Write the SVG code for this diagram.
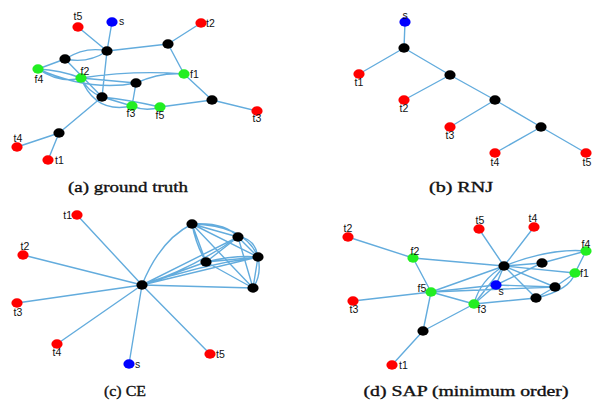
<svg xmlns="http://www.w3.org/2000/svg" width="606" height="403" viewBox="0 0 606 403">
<style>
.e{stroke:#63acdd;stroke-width:1.4;fill:none}
.k{fill:#000}.r{fill:#ff0000}.g{fill:#22ee22}.b{fill:#0000ff}
.l{font-family:"Liberation Sans",Arial,sans-serif;font-size:10.5px;fill:#111}
.c{font-family:"Liberation Serif","Times New Roman",serif;font-size:14.5px;fill:#111;stroke:#111;stroke-width:0.35;text-anchor:middle}
</style>
<defs>
<ellipse id="n" cx="0" cy="0" rx="5.6" ry="4.7"/>
</defs>
<rect width="606" height="403" fill="#fff"/>
<g id="connectors">
<!-- (a) -->
<path class="e" d="M78,27L107,51M112,22L107,51M107,51L168,44M201,23L168,44M168,44L184,74M184,74L212,100M212,100L257,111M212,100L160,107"/>
<path class="e" d="M65,59Q86,46 107,51M65,59Q88,64 107,51M65,59L38,69M38,69Q60,70 81,78M38,69Q60,84 81,78M38,69Q90,92 136,83"/>
<path class="e" d="M81,78L136,83M81,78Q135,70 184,74M136,83Q160,72 184,74M65,59L102,97M107,51L102,97M81,78Q88,92 102,97M81,78Q95,114 132,106"/>
<path class="e" d="M136,83L132,106M102,97L132,106M102,97Q130,100 160,107M132,106Q146,112 160,107M102,97L59,133M59,133L17,147M59,133L48,160"/>
<!-- (b) -->
<path class="e" d="M405,22L404,48M404,48L359,74M404,48L450,75M450,75L404,100M450,75L495,100M495,100L450,127M495,100L541,127M541,127L495,153M541,127L586,153"/>
<!-- (c) -->
<path class="e" d="M142,285L77,215M142,285L23,255M142,285L17,303M142,285L57,344M142,285L129,364M142,285L210,354"/>
<path class="e" d="M142,285Q160,240 192,224M142,285L238,237M142,285L206,262M142,285L258,257M142,285Q200,265 258,257M142,285L253,288M142,285Q190,270 238,237"/>
<path class="e" d="M192,224L238,237M192,224Q225,222 238,237M192,224L206,262M192,224L258,257M192,224Q245,225 258,257M192,224L253,288M192,224Q196,245 206,262"/>
<path class="e" d="M238,237L206,262M238,237Q215,255 206,262M238,237L258,257M238,237Q255,238 258,257M238,237L253,288M206,262L258,257M206,262Q235,255 258,257M206,262L253,288M258,257L253,288M258,257Q262,275 253,288"/>
<!-- (d) -->
<path class="e" d="M348,237L413,258M413,258L504,266M413,258L431,292M479,229L504,266M534,227L504,266M504,266Q550,248 586,251M504,266L542,263M504,266L575,273M504,266L555,287M504,266L536,298M504,266L496,285"/>
<path class="e" d="M504,266L431,292M504,266L474,304M504,266Q480,280 474,304M542,263L586,251M586,251L575,273M575,273L555,287M575,273Q570,290 536,298M555,287L536,298M555,287L496,285M555,287L431,292M542,263L496,285"/>
<path class="e" d="M496,285L431,292M496,285L474,304M353,301L431,292M431,292L474,304M431,292L423,331M474,304L423,331M474,304L536,298M423,331L392,365"/>
</g>
<g id="nodes-a">
<g id="a-t5"><use href="#n" x="78" y="27" class="r"/><text class="l" x="78" y="20" text-anchor="middle">t5</text></g>
<g id="a-s"><use href="#n" x="112" y="22" class="b"/><text class="l" x="119" y="25">s</text></g>
<g id="a-t2"><use href="#n" x="201" y="23" class="r"/><text class="l" x="206" y="27">t2</text></g>
<g id="a-n1"><use href="#n" x="107" y="51" class="k"/></g>
<g id="a-n2"><use href="#n" x="168" y="44" class="k"/></g>
<g id="a-n3"><use href="#n" x="65" y="59" class="k"/></g>
<g id="a-f4"><use href="#n" x="38" y="69" class="g"/><text class="l" x="39" y="83" text-anchor="middle">f4</text></g>
<g id="a-f2"><use href="#n" x="81" y="78" class="g"/><text class="l" x="85" y="75" text-anchor="middle">f2</text></g>
<g id="a-n4"><use href="#n" x="136" y="83" class="k"/></g>
<g id="a-f1"><use href="#n" x="184" y="74" class="g"/><text class="l" x="190" y="78">f1</text></g>
<g id="a-n5"><use href="#n" x="102" y="97" class="k"/></g>
<g id="a-f3"><use href="#n" x="132" y="106" class="g"/><text class="l" x="131" y="117" text-anchor="middle">f3</text></g>
<g id="a-f5"><use href="#n" x="160" y="107" class="g"/><text class="l" x="160" y="119" text-anchor="middle">f5</text></g>
<g id="a-n6"><use href="#n" x="212" y="100" class="k"/></g>
<g id="a-t3"><use href="#n" x="257" y="111" class="r"/><text class="l" x="257" y="122" text-anchor="middle">t3</text></g>
<g id="a-n7"><use href="#n" x="59" y="133" class="k"/></g>
<g id="a-t4"><use href="#n" x="17" y="147" class="r"/><text class="l" x="18" y="142" text-anchor="middle">t4</text></g>
<g id="a-t1"><use href="#n" x="48" y="160" class="r"/><text class="l" x="55" y="164">t1</text></g>
<text class="c" x="128" y="192" textLength="120" lengthAdjust="spacingAndGlyphs">(a) ground truth</text>
</g>
<g id="nodes-b">
<g id="b-s"><use href="#n" x="405" y="22" class="b"/><text class="l" x="405" y="19" text-anchor="middle">s</text></g>
<g id="b-n1"><use href="#n" x="404" y="48" class="k"/></g>
<g id="b-t1"><use href="#n" x="359" y="74" class="r"/><text class="l" x="359" y="86" text-anchor="middle">t1</text></g>
<g id="b-n2"><use href="#n" x="450" y="75" class="k"/></g>
<g id="b-t2"><use href="#n" x="404" y="100" class="r"/><text class="l" x="404" y="112" text-anchor="middle">t2</text></g>
<g id="b-n3"><use href="#n" x="495" y="100" class="k"/></g>
<g id="b-t3"><use href="#n" x="450" y="127" class="r"/><text class="l" x="450" y="139" text-anchor="middle">t3</text></g>
<g id="b-n4"><use href="#n" x="541" y="127" class="k"/></g>
<g id="b-t4"><use href="#n" x="495" y="153" class="r"/><text class="l" x="495" y="166" text-anchor="middle">t4</text></g>
<g id="b-t5"><use href="#n" x="586" y="153" class="r"/><text class="l" x="587" y="166" text-anchor="middle">t5</text></g>
<text class="c" x="461" y="192" textLength="64" lengthAdjust="spacingAndGlyphs">(b) RNJ</text>
</g>
<g id="nodes-c">
<g id="c-t1"><use href="#n" x="77" y="215" class="r"/><text class="l" x="72" y="219" text-anchor="end">t1</text></g>
<g id="c-t2"><use href="#n" x="23" y="255" class="r"/><text class="l" x="25" y="250" text-anchor="middle">t2</text></g>
<g id="c-t3"><use href="#n" x="17" y="303" class="r"/><text class="l" x="18" y="316" text-anchor="middle">t3</text></g>
<g id="c-t4"><use href="#n" x="57" y="344" class="r"/><text class="l" x="57" y="356" text-anchor="middle">t4</text></g>
<g id="c-s"><use href="#n" x="129" y="364" class="b"/><text class="l" x="135" y="368">s</text></g>
<g id="c-t5"><use href="#n" x="210" y="354" class="r"/><text class="l" x="216" y="358">t5</text></g>
<g id="c-n0"><use href="#n" x="142" y="285" class="k"/></g>
<g id="c-n1"><use href="#n" x="192" y="224" class="k"/></g>
<g id="c-n2"><use href="#n" x="238" y="237" class="k"/></g>
<g id="c-n3"><use href="#n" x="206" y="262" class="k"/></g>
<g id="c-n4"><use href="#n" x="258" y="257" class="k"/></g>
<g id="c-n5"><use href="#n" x="253" y="288" class="k"/></g>
<text class="c" x="125" y="396" textLength="42" lengthAdjust="spacingAndGlyphs">(c) CE</text>
</g>
<g id="nodes-d">
<g id="d-t2"><use href="#n" x="348" y="237" class="r"/><text class="l" x="348" y="232" text-anchor="middle">t2</text></g>
<g id="d-t5"><use href="#n" x="479" y="229" class="r"/><text class="l" x="480" y="224" text-anchor="middle">t5</text></g>
<g id="d-t4"><use href="#n" x="534" y="227" class="r"/><text class="l" x="533" y="222" text-anchor="middle">t4</text></g>
<g id="d-f4"><use href="#n" x="586" y="251" class="g"/><text class="l" x="586" y="248" text-anchor="middle">f4</text></g>
<g id="d-f2"><use href="#n" x="413" y="258" class="g"/><text class="l" x="415" y="255" text-anchor="middle">f2</text></g>
<g id="d-n1"><use href="#n" x="504" y="266" class="k"/></g>
<g id="d-n2"><use href="#n" x="542" y="263" class="k"/></g>
<g id="d-f1"><use href="#n" x="575" y="273" class="g"/><text class="l" x="580" y="277">f1</text></g>
<g id="d-s"><use href="#n" x="496" y="285" class="b"/><text class="l" x="501" y="295" text-anchor="middle">s</text></g>
<g id="d-n3"><use href="#n" x="555" y="287" class="k"/></g>
<g id="d-f5"><use href="#n" x="431" y="292" class="g"/><text class="l" x="422" y="292" text-anchor="middle">f5</text></g>
<g id="d-t3"><use href="#n" x="353" y="301" class="r"/><text class="l" x="354" y="313" text-anchor="middle">t3</text></g>
<g id="d-n4"><use href="#n" x="536" y="298" class="k"/></g>
<g id="d-f3"><use href="#n" x="474" y="304" class="g"/><text class="l" x="482" y="313" text-anchor="middle">f3</text></g>
<g id="d-n5"><use href="#n" x="423" y="331" class="k"/></g>
<g id="d-t1"><use href="#n" x="392" y="365" class="r"/><text class="l" x="399" y="369">t1</text></g>
<text class="c" x="466" y="396" textLength="205" lengthAdjust="spacingAndGlyphs">(d) SAP (minimum order)</text>
</g>
</svg>
